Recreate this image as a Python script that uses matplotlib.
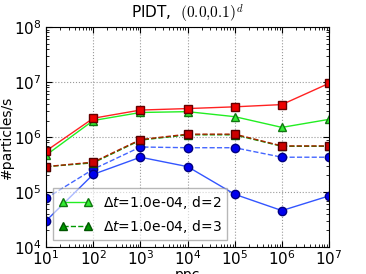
import matplotlib
matplotlib.use("Agg")
import matplotlib.pyplot as plt
from matplotlib.ticker import LogLocator, LogFormatterMathtext, NullFormatter
import numpy as np

plt.rcParams["mathtext.fontset"] = "dejavusans"
plt.rcParams["xtick.direction"] = "in"
plt.rcParams["ytick.direction"] = "in"
plt.rcParams["xtick.top"] = True
plt.rcParams["ytick.right"] = True

ppc = [1e1, 1e2, 1e3, 1e4, 1e5, 1e6, 1e7]

# d=2, solid lines
red_d2 = [5.6e5, 2.2e6, 3.1e6, 3.3e6, 3.55e6, 3.9e6, 9.5e6]
green_d2 = [4.7e5, 2.0e6, 2.8e6, 2.9e6, 2.35e6, 1.5e6, 2.1e6]
blue_d2 = [3.0e4, 2.1e5, 4.3e5, 2.9e5, 9.1e4, 4.6e4, 8.5e4]

# d=3, dashed lines
red_d3 = [2.9e5, 3.5e5, 9.0e5, 1.13e6, 1.13e6, 6.9e5, 6.9e5]
green_d3 = [2.9e5, 3.4e5, 8.8e5, 1.1e6, 1.1e6, 6.8e5, 6.8e5]
blue_d3 = [7.7e4, 2.6e5, 6.6e5, 6.4e5, 6.4e5, 4.3e5, 4.3e5]

fig = plt.figure(figsize=(3.66, 2.74), dpi=100)
ax = fig.add_axes([0.126, 0.0985, 0.773, 0.8025])

ax.plot(ppc, blue_d3, "--o", color="#4466ff", mfc="#0000ee", mec="#000080",
        ms=6, lw=1)
ax.plot(ppc, blue_d2, "-o", color="#3355ff", mfc="#0000ee", mec="#000080",
        ms=6, lw=1)
l3, = ax.plot(ppc, green_d3, "--^", color="#009900", mfc="#009900", mec="#005500",
              ms=6, lw=1, label=r"$\Delta t$=1.0e-04, d=3")
ax.plot(ppc, red_d3, "--s", color="#aa2200", mfc="#cc0000", mec="#550000",
        ms=6, lw=1)
l2, = ax.plot(ppc, green_d2, "-^", color="#22ee22", mfc="#33ee33", mec="#117711",
              ms=6, lw=1, label=r"$\Delta t$=1.0e-04, d=2")
ax.plot(ppc, red_d2, "-s", color="#ff2222", mfc="#ee0000", mec="#660000",
        ms=6, lw=1)

ax.set_xscale("log")
ax.set_yscale("log")
ax.set_xlim(1e1, 1e7)
ax.set_ylim(1e4, 1e8)
for a in (ax.xaxis, ax.yaxis):
    a.set_major_locator(LogLocator(base=10, numticks=20))
    a.set_major_formatter(LogFormatterMathtext())
    a.set_minor_locator(LogLocator(base=10, subs=np.arange(2, 10), numticks=20))
    a.set_minor_formatter(NullFormatter())
ax.grid(True, which="major", linestyle=":", color="#999999", lw=0.8)
ax.tick_params(which="major", length=4, labelsize=11)
ax.tick_params(which="minor", length=2)
ax.tick_params(axis="x", pad=2)

ax.set_xlabel("ppc", fontsize=10, labelpad=0)
ax.set_ylabel("#particles/s", fontsize=10, labelpad=0)
t = ax.set_title(r"PIDT,  $(0.0{,}0.1)^d$", fontsize=11)
t.set_math_fontfamily("cm")

leg = ax.legend(handles=[l2, l3], loc="lower left", fontsize=10, fancybox=False,
                framealpha=0.6, edgecolor="#888888", handlelength=2.4,
                numpoints=2, borderaxespad=0.5)

fig.savefig("out.png", dpi=100)
